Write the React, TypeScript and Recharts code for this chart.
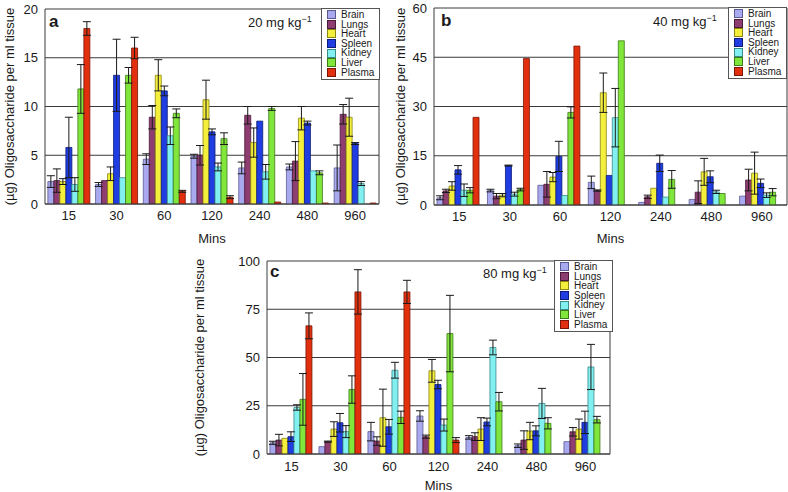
import React from "react";
import {
  BarChart,
  Bar,
  XAxis,
  YAxis,
  CartesianGrid,
  ErrorBar,
  Legend,
} from "recharts";

const mins = ["15", "30", "60", "120", "240", "480", "960"];
const organs = ["Brain", "Lungs", "Heart", "Spleen", "Kidney", "Liver", "Plasma"];
const fills = ["#a9a9ef", "#8e3d70", "#f4ef3c", "#1f3de0", "#82f0f0", "#80e63c", "#e2300e"];
const edges = ["#5a5a90", "#4a1838", "#8a8510", "#0c1a78", "#3a8a8a", "#3d7a15", "#7a1505"];

// 20 mg/kg: means and +/- errors, one array per organ (in mins order)
const mean20: Record<string, number[]> = {
  Brain: [2.3, 2.0, 4.6, 4.9, 3.7, 3.8, 3.7],
  Lungs: [2.4, 2.4, 8.9, 5.0, 9.1, 4.4, 9.2],
  Heart: [2.3, 3.1, 13.2, 10.7, 6.3, 8.8, 8.9],
  Spleen: [5.8, 13.2, 11.6, 7.4, 8.5, 8.3, 6.2],
  Kidney: [2.0, 2.7, 7.0, 3.8, 3.3, 3.4, 2.1],
  Liver: [11.8, 13.2, 9.3, 6.7, 9.8, 3.2, 0],
  Plasma: [18.0, 16.0, 1.3, 0.7, 0.2, 0.1, 0.1],
};
const err20: Record<string, number[]> = {
  Brain: [0.6, 0.2, 0.55, 0.2, 0.6, 0.3, 2.35],
  Lungs: [1.2, 0, 1.2, 1.0, 0.9, 2.0, 1.0],
  Heart: [0.3, 0.7, 1.6, 2.0, 1.5, 1.2, 1.95],
  Spleen: [3.1, 3.7, 0.5, 0.3, 0, 0.2, 0.1],
  Kidney: [0.7, 0, 0.9, 0.4, 0.75, 0, 0.2],
  Liver: [2.5, 0.8, 0.45, 0.6, 0.2, 0.2, 0],
  Plasma: [0.7, 1.1, 0.1, 0.15, 0, 0, 0],
};

// 40 mg/kg
const mean40: Record<string, number[]> = {
  Brain: [2.2, 4.4, 6.0, 6.9, 0.8, 1.7, 2.7],
  Lungs: [4.3, 2.7, 6.3, 4.4, 2.5, 3.9, 7.6],
  Heart: [5.8, 3.0, 8.5, 34.2, 5.1, 10.1, 9.7],
  Spleen: [10.7, 12.0, 14.8, 9.0, 12.7, 8.6, 6.6],
  Kidney: [4.5, 3.3, 2.9, 26.6, 2.4, 4.0, 3.0],
  Liver: [4.5, 4.7, 28.2, 50.0, 7.8, 3.5, 3.9],
  Plasma: [26.7, 44.6, 48.4, 0, 0, 0, 0],
};
const err40: Record<string, number[]> = {
  Brain: [0.6, 0.4, 0, 1.9, 0, 0, 0],
  Lungs: [0.5, 0.8, 3.9, 0.2, 0.5, 3.45, 3.3],
  Heart: [1.3, 0.5, 1.4, 6.0, 0, 4.1, 6.4],
  Spleen: [1.3, 0.15, 4.6, 0, 2.5, 1.8, 1.3],
  Kidney: [1.9, 0.6, 0, 8.9, 0, 0.5, 0.7],
  Liver: [0.8, 0.4, 1.7, 0, 2.7, 0, 1.1],
  Plasma: [0, 0, 0, 0, 0, 0, 0],
};

// 80 mg/kg
const mean80: Record<string, number[]> = {
  Brain: [5.8, 3.8, 11.6, 19.7, 8.6, 4.3, 6.4],
  Lungs: [7.2, 6.4, 6.7, 9.0, 9.0, 7.2, 11.5],
  Heart: [8.1, 12.9, 18.8, 43.1, 12.9, 11.9, 12.9],
  Spleen: [9.0, 16.2, 14.1, 36.0, 16.6, 12.0, 16.4],
  Kidney: [24.1, 11.6, 43.4, 15.0, 55.2, 26.2, 45.1],
  Liver: [28.3, 33.4, 19.0, 62.4, 27.1, 15.9, 17.8],
  Plasma: [66.4, 84.0, 84.0, 7.2, 0, 0, 0],
};
const err80: Record<string, number[]> = {
  Brain: [0.8, 0, 4.8, 2.7, 0.9, 0.9, 0],
  Lungs: [3.0, 0.3, 2.2, 0.8, 2.0, 4.8, 2.2],
  Heart: [0, 3.8, 14.8, 5.9, 5.9, 4.5, 5.2],
  Spleen: [2.5, 4.8, 3.8, 2.2, 2.0, 2.6, 5.8],
  Kidney: [1.4, 3.1, 4.1, 3.1, 3.8, 7.8, 11.7],
  Liver: [13.4, 7.1, 3.2, 19.8, 4.8, 2.9, 1.7],
  Plasma: [6.7, 11.5, 6.0, 1.3, 0, 0, 0],
};

const ticks20 = [0, 5, 10, 15, 20];
const ticks40 = [0, 15, 30, 45, 60];
const ticks80 = [0, 25, 50, 75, 100];

const FONT = '"Liberation Sans", Arial, Helvetica, sans-serif';
const INK = "#1a1a1a";
const GRID = "#3a3a3a";

function buildRows(means: Record<string, number[]>, errs: Record<string, number[]>) {
  return mins.map((m, i) => {
    const row: Record<string, any> = { mins: m };
    organs.forEach((o) => {
      row[o] = means[o][i];
      row[o + "_e"] = errs[o][i];
    });
    return row;
  });
}

const yTitle = (x: number) => (props: any) => {
  const vb = props.viewBox || { y: 0, height: 0 };
  const cy = vb.y + vb.height / 2;
  return (
    <text
      x={x}
      y={cy}
      transform={`rotate(-90 ${x} ${cy})`}
      textAnchor="middle"
      dominantBaseline="central"
      fontSize={13}
      fontFamily={FONT}
      fill={INK}
    >
      (µg) Oligosaccharide per ml tissue
    </text>
  );
};

const LegendBox = () => (
  <div
    style={{
      border: "1px solid #555",
      background: "#fff",
      padding: "1px 4px 2px 5px",
      fontFamily: FONT,
      fontSize: 10,
      color: INK,
      width: 48,
    }}
  >
    {organs.map((o, i) => (
      <div
        key={o}
        style={{ display: "flex", alignItems: "center", height: 9.6, lineHeight: "9.6px" }}
      >
        <span
          style={{
            display: "inline-block",
            width: 7,
            height: 7,
            background: fills[i],
            border: `1px solid ${edges[i]}`,
            marginRight: 5,
            flex: "none",
          }}
        />
        {o}
      </div>
    ))}
  </div>
);

interface PanelProps {
  rows: any[];
  ticks: number[];
  width: number;
  height: number;
  margin: { top: number; right: number; left: number; bottom: number };
  yWidth: number;
  xHeight: number;
  xTickMargin: number;
  minsOffset: number;
  titleX: number;
  legendPos: { left: number; top: number };
}

function Panel(p: PanelProps) {
  const tickStyle = { fill: INK, fontSize: 13, fontFamily: FONT };
  return (
    <BarChart
      width={p.width}
      height={p.height}
      data={p.rows}
      margin={p.margin}
      barGap={0}
      barCategoryGap="6%"
    >
      <CartesianGrid
        stroke={GRID}
        strokeWidth={1}
        verticalCoordinatesGenerator={({ offset }: any) => [offset.left + offset.width]}
      />
      <XAxis
        dataKey="mins"
        height={p.xHeight}
        tick={tickStyle}
        tickSize={0}
        tickMargin={p.xTickMargin}
        axisLine={{ stroke: GRID }}
        tickLine={false}
        interval={0}
        label={{
          value: "Mins",
          position: "insideBottom",
          offset: p.minsOffset,
          fill: INK,
          fontSize: 13,
          fontFamily: FONT,
        }}
      />
      <YAxis
        width={p.yWidth}
        domain={[p.ticks[0], p.ticks[p.ticks.length - 1]]}
        ticks={p.ticks}
        tick={tickStyle}
        tickSize={0}
        tickMargin={7}
        axisLine={{ stroke: GRID }}
        tickLine={false}
        allowDataOverflow
        label={yTitle(p.titleX)}
      />
      <Legend
        layout="vertical"
        align="center"
        verticalAlign="middle"
        content={<LegendBox />}
        wrapperStyle={{ left: p.legendPos.left, top: p.legendPos.top, width: "auto" }}
      />
      {organs.map((o, i) => (
        <Bar
          key={o}
          dataKey={o}
          fill={fills[i]}
          stroke={edges[i]}
          strokeWidth={0.8}
          isAnimationActive={false}
        >
          <ErrorBar dataKey={o + "_e"} width={4} stroke={INK} strokeWidth={1} direction="y" />
        </Bar>
      ))}
    </BarChart>
  );
}

const Dose = ({ value, left, top }: { value: string; left: number; top: number }) => (
  <div
    style={{
      position: "absolute",
      left,
      top,
      fontFamily: FONT,
      fontSize: 13,
      lineHeight: "18px",
      color: INK,
      whiteSpace: "nowrap",
    }}
  >
    {value} mg kg
    <span style={{ fontSize: 9, position: "relative", top: -5 }}>−1</span>
  </div>
);

const Letter = ({ ch, left, top }: { ch: string; left: number; top: number }) => (
  <div
    style={{
      position: "absolute",
      left,
      top,
      fontFamily: FONT,
      fontSize: 17,
      fontWeight: "bold",
      lineHeight: "20px",
      color: INK,
    }}
  >
    {ch}
  </div>
);

export default function App() {
  return (
    <div
      style={{
        position: "absolute",
        left: 0,
        top: 0,
        width: 788,
        height: 492,
        background: "#fff",
        overflow: "hidden",
      }}
    >
      <div style={{ position: "absolute", left: 0, top: 0 }}>
        <Panel
          rows={buildRows(mean20, err20)}
          ticks={ticks20}
          width={390}
          height={250}
          margin={{ top: 9, right: 11, left: 0, bottom: 0 }}
          yWidth={45}
          xHeight={46}
          xTickMargin={7}
          minsOffset={7}
          titleX={9}
          legendPos={{ left: 321, top: 8 }}
        />
      </div>
      <div style={{ position: "absolute", left: 390, top: 0 }}>
        <Panel
          rows={buildRows(mean40, err40)}
          ticks={ticks40}
          width={398}
          height={250}
          margin={{ top: 8, right: 1, left: 0, bottom: 0 }}
          yWidth={44}
          xHeight={45}
          xTickMargin={7}
          minsOffset={7}
          titleX={10}
          legendPos={{ left: 338, top: 7 }}
        />
      </div>
      <div style={{ position: "absolute", left: 185, top: 250 }}>
        <Panel
          rows={buildRows(mean80, err80)}
          ticks={ticks80}
          width={435}
          height={242}
          margin={{ top: 11, right: 10, left: 0, bottom: 0 }}
          yWidth={82}
          xHeight={38}
          xTickMargin={8}
          minsOffset={2}
          titleX={14}
          legendPos={{ left: 369, top: 10 }}
        />
      </div>
      <Letter ch="a" left={49} top={12} />
      <Dose value="20" left={248} top={14} />
      <Letter ch="b" left={441} top={11} />
      <Dose value="40" left={653} top={13} />
      <Letter ch="c" left={270} top={262} />
      <Dose value="80" left={483} top={265} />
    </div>
  );
}
